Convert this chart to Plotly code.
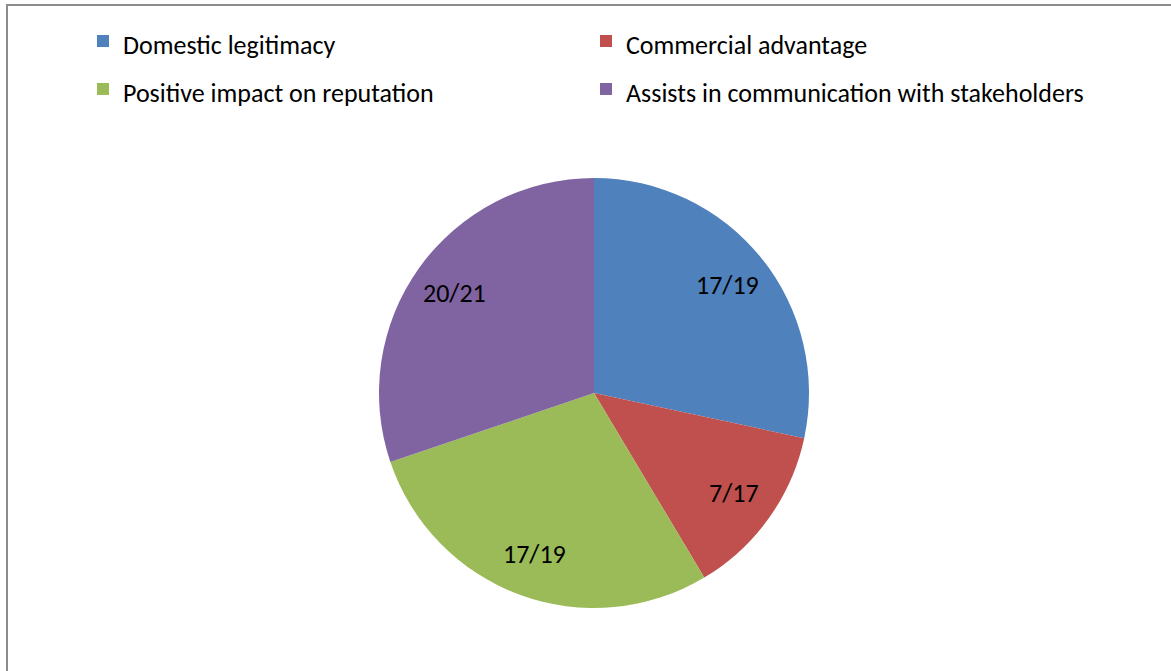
import math
import plotly.graph_objects as go

categories = ["Domestic legitimacy", "Commercial advantage",
              "Positive impact on reputation", "Assists in communication with stakeholders"]
ratio_labels = ["17/19", "7/17", "17/19", "20/21"]
numerators = [17, 7, 17, 20]
denominators = [19, 17, 19, 21]
colors = ["#4F81BD", "#C0504D", "#9BBB59", "#8064A2"]

values = [n / d for n, d in zip(numerators, denominators)]

W, H = 1171, 671
cx, cy, r = 594, 393, 215
FONT = "Carlito, Calibri, Open Sans, sans-serif"

fig = go.Figure(go.Pie(
    labels=[f'<span style="font-size:26px">{c}</span>' for c in categories],
    values=values,
    text=ratio_labels,
    textinfo="none",
    sort=False,
    direction="clockwise",
    rotation=0,
    marker=dict(colors=colors, line=dict(width=0)),
    domain=dict(x=[(cx - r) / W, (cx + r) / W], y=[1 - (cy + r) / H, 1 - (cy - r) / H]),
    hoverinfo="text+percent",
))

# slice labels placed at 80% of the radius, at each slice's mid-angle
total = sum(values)
cum = 0
annotations = []
for v, t in zip(values, ratio_labels):
    theta = math.radians(360 * (cum + v / 2) / total)
    cum += v
    px_ = cx + 0.8 * r * math.sin(theta)
    py_ = cy - 0.8 * r * math.cos(theta)
    annotations.append(dict(x=px_ / W, y=1 - py_ / H, xref="paper", yref="paper",
                            xanchor="center", yanchor="middle",
                            text=t, showarrow=False, font=dict(size=26, color="black")))

fig.update_layout(
    width=W, height=H,
    margin=dict(l=0, r=0, t=0, b=0),
    paper_bgcolor="white",
    font=dict(family=FONT, color="black"),
    legend=dict(
        orientation="h",
        x=83 / W, xanchor="left",
        y=1 - 12 / H, yanchor="top",
        entrywidth=458, entrywidthmode="pixels",
        font=dict(size=34.6),
        traceorder="normal",
    ),
    annotations=annotations,
    shapes=[dict(type="rect", xref="paper", yref="paper",
                 x0=7 / W, x1=1.02, y0=-0.02, y1=1 - 5 / H,
                 line=dict(color="#8C8C8C", width=2))],
)

fig.write_html("out.html", config={"displayModeBar": False},
               post_script="document.body.style.margin='0';")
